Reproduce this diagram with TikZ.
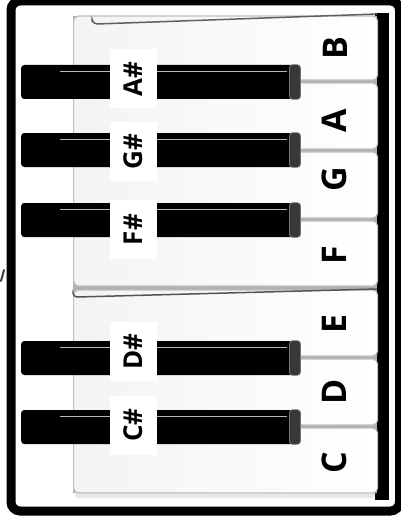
\documentclass[tikz,border=0pt]{standalone}
\usepackage{fontspec}
\newfontfamily\keyfont{Open Sans}
\begin{document}
\begin{tikzpicture}[x=1pt,y=-1pt,
  wkey/.style={draw=gray!50, line width=1.2pt, rounded corners=5pt, left color=gray!9, right color=white, minimum width=304pt, inner sep=0pt, anchor=west},
  bkey/.style={fill=black, rounded corners=3pt, minimum width=279pt, minimum height=34pt, inner sep=0pt, anchor=west},
  bcap/.style={fill=black!78, draw=black!55, line width=0.8pt, rounded corners=3pt},
  bshine/.style={draw=gray!55, line width=1.2pt},
  lbox/.style={fill=white, rotate=90, minimum width=59pt, minimum height=47pt, inner sep=0pt, font=\keyfont\bfseries\fontsize{26}{26}\selectfont},
  wtxt/.style={rotate=90, inner sep=0pt, font=\keyfont\bfseries\fontsize{34}{34}\selectfont},
  frame/.style={draw=black, line width=9pt, rounded corners=9pt}]
\useasboundingbox (0,0) rectangle (400,516);
\fill[white] (0,0) rectangle (400,516);
% piano body strip on the right
\fill[black] (375,13) rectangle (389,500);
% background behind the white keys (gaps)
\fill[gray!62] (73,16) rectangle (377,493);
\fill[gray!18, rounded corners=3pt] (75,490) rectangle (375,498);
% white keys
\node[wkey, minimum height=64pt] (kB) at (73,48) {};
\node[wkey, minimum height=66pt] (kA) at (73,116) {};
\node[wkey, minimum height=66pt] (kG) at (73,185) {};
\node[wkey, minimum height=65pt] (kF) at (73,253.5) {};
\node[wkey, minimum height=66pt] (kE) at (73,323) {};
\node[wkey, minimum height=66pt] (kD) at (73,392) {};
\node[wkey, minimum height=65pt] (kC) at (73,460.5) {};
% back edges of the two key groups
\draw[gray!75!black, line width=1.5pt] (92,22) -- (92,19) arc[start angle=180, end angle=270, radius=5pt] -- (377,14);
\draw[gray!65!black, line width=1.5pt] (73,294) -- (73,293) arc[start angle=180, end angle=270, radius=4pt] -- (377,289);
% black keys
\foreach \n/\y in {As/82, Gs/150, Fs/220, Ds/358, Cs/427}{
  \node[bkey] (b\n) at (21,\y) {};
  \draw[bcap] ([xshift=-11pt]b\n.north east) rectangle (b\n.south east);
  \draw[bshine] ([shift={(39pt,-7pt)}]b\n.north west) -- ([shift={(-13pt,-7pt)}]b\n.north east);
}
% black key labels
\node[lbox] (lAs) at (133.5,79) {A\#};
\node[lbox] (lGs) at (133.5,151.5) {G\#};
\node[lbox] (lFs) at (133.5,229.5) {F\#};
\node[lbox] (lDs) at (133.5,351.5) {D\#};
\node[lbox] (lCs) at (133.5,425) {C\#};
% white key labels
\node[wtxt] (tB) at (335,48.5) {B};
\node[wtxt] (tA) at (334,121) {A};
\node[wtxt] (tG) at (334,179) {G};
\node[wtxt] (tF) at (334,255) {F};
\node[wtxt] (tE) at (334,324) {E};
\node[wtxt] (tD) at (334,392) {D};
\node[wtxt] (tC) at (334,463) {C};
% outer frame
\draw[frame] (11,1) rectangle (399.5,511);
% small stray mark at the left edge
\draw[black!75, line width=2pt, line cap=round] (1,281) -- (4,270);
\end{tikzpicture}
\end{document}
